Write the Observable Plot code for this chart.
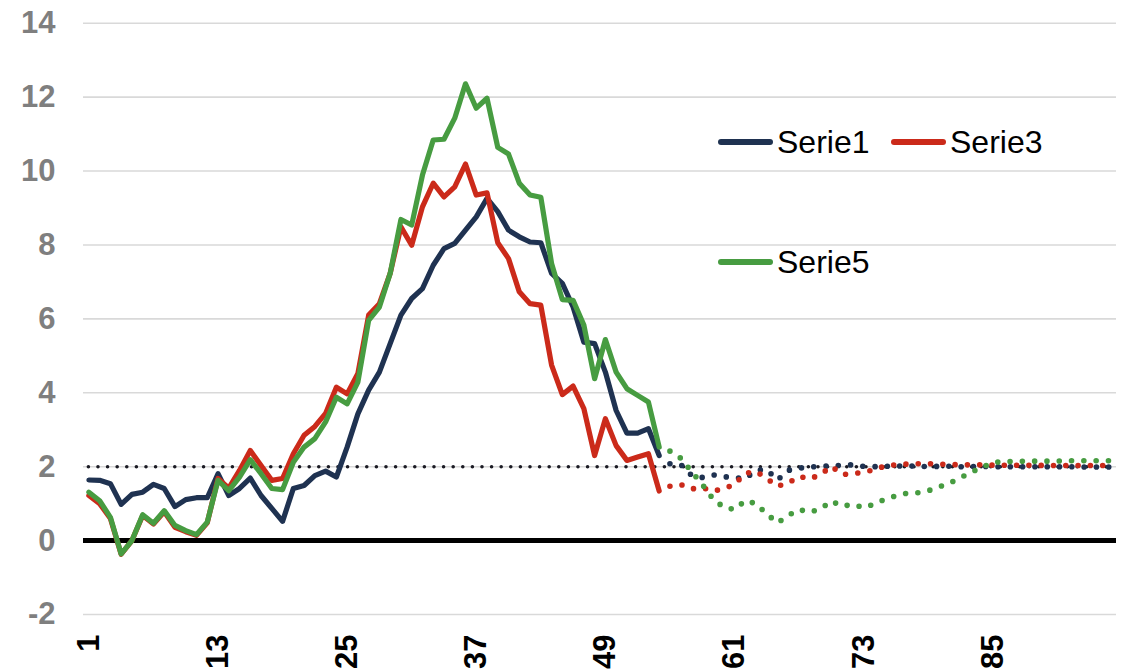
<!DOCTYPE html>
<html><head><meta charset="utf-8">
<script src="https://cdn.jsdelivr.net/npm/d3@7"></script>
<script src="https://cdn.jsdelivr.net/npm/@observablehq/plot@0.6"></script>
<style>
body{margin:0;background:#fff;font-family:"Liberation Sans",Arial,sans-serif}
#wrap{position:relative;width:1123px;height:670px;overflow:hidden;background:#fff}
.leg{position:absolute;display:flex;align-items:center;font-size:32px;color:#000;line-height:32px;height:32px;white-space:nowrap}
.leg .sw{display:inline-block;width:55px;height:6px;border-radius:3px;margin-right:4px}
</style></head>
<body><div id="wrap"></div>
<script>
// categories 1..96
const categories = Array.from({length: 96}, (_, k) => k + 1);
const xTicks = [1, 13, 25, 37, 49, 61, 73, 85];
const yTicks = [-2, 0, 2, 4, 6, 8, 10, 12, 14];
const target = 2;

// observed (solid) values, categories 1..54
const serie1 = [1.64,1.63,1.54,0.98,1.25,1.31,1.52,1.41,0.92,1.11,
  1.16,1.16,1.81,1.22,1.41,1.69,1.22,0.87,0.52,1.41,
  1.49,1.76,1.88,1.72,2.53,3.43,4.07,4.56,5.33,6.10,
  6.55,6.82,7.45,7.90,8.04,8.40,8.76,9.26,8.90,8.40,
  8.22,8.08,8.06,7.23,6.96,6.32,5.37,5.33,4.56,3.52,
  2.91,2.91,3.03,2.30];
const serie3 = [1.22,1.00,0.60,-0.37,0.00,0.68,0.45,0.78,0.36,0.24,
  0.14,0.48,1.68,1.42,1.90,2.44,2.03,1.63,1.68,2.35,
  2.85,3.09,3.44,4.15,3.97,4.52,6.10,6.41,7.23,8.49,
  7.99,9.03,9.67,9.30,9.57,10.19,9.35,9.41,8.06,7.63,
  6.73,6.41,6.37,4.75,3.95,4.18,3.57,2.30,3.30,2.57,
  2.17,2.26,2.35,1.34];
const serie5 = [1.31,1.08,0.63,-0.36,0.00,0.70,0.47,0.81,0.41,0.27,
  0.16,0.50,1.63,1.35,1.72,2.19,1.81,1.41,1.38,2.12,
  2.53,2.76,3.21,3.88,3.70,4.29,5.96,6.32,7.23,8.69,
  8.54,9.89,10.84,10.86,11.43,12.36,11.70,11.97,10.64,10.46,
  9.67,9.35,9.29,7.50,6.52,6.50,5.83,4.38,5.44,4.56,
  4.11,3.93,3.75,2.53];

// projected (dotted) values, categories 55..96
const serie1Proj = [2.08,2.06,1.77,1.71,1.78,1.73,1.70,1.68,1.90,1.92,
  1.64,1.90,1.96,1.99,2.01,2.02,2.04,2.05,2.01,2.00,
  2.01,2.02,2.02,2.01,2.00,2.01,2.01,2.00,2.00,2.01,
  2.00,2.00,2.00,2.00,2.00,2.00,2.00,2.00,1.99,1.99,
  1.99,1.99];
const serie3Proj = [1.47,1.52,1.40,1.43,1.34,1.40,1.52,1.82,1.87,1.68,
  1.47,1.56,1.74,1.67,1.79,2.01,1.79,1.81,1.85,1.92,
  2.02,2.05,2.07,2.08,2.08,2.07,2.06,2.05,2.05,2.05,
  2.04,2.04,2.04,2.04,2.04,2.03,2.03,2.03,2.03,2.03,
  2.03,2.03];
const serie5Proj = [2.42,2.23,1.87,1.52,1.13,0.90,0.84,1.08,1.00,0.72,
  0.48,0.68,0.84,0.77,0.86,1.07,0.93,0.98,0.89,0.99,
  1.12,1.21,1.28,1.29,1.35,1.45,1.56,1.70,1.85,1.98,
  2.11,2.14,2.14,2.15,2.15,2.15,2.15,2.16,2.16,2.16,
  2.16,2.16];

const seriesNames = ["Serie1", "Serie3", "Serie5"];
const colors = {Serie1: "#1f3251", Serie3: "#cb2a1a", Serie5: "#479c41"};

const solidStart = categories[0];
const projStart = categories[serie1.length];
const rows = (vals, start) => vals.map((v, k) => ({i: categories[start - 1 + k], v}));

const solid = {Serie1: rows(serie1, solidStart), Serie3: rows(serie3, solidStart), Serie5: rows(serie5, solidStart)};
const proj = {Serie1: rows(serie1Proj, projStart), Serie3: rows(serie3Proj, projStart), Serie5: rows(serie5Proj, projStart)};

const lineMarks = [];
for (const s of seriesNames) {
  lineMarks.push(Plot.line(solid[s], {x: "i", y: "v", stroke: colors[s], strokeWidth: 5.2, strokeLinejoin: "round", strokeLinecap: "round"}));
}
for (const s of seriesNames) {
  lineMarks.push(Plot.line(proj[s], {x: "i", y: "v", stroke: colors[s], strokeWidth: 5.6, strokeDasharray: "0 12.3", strokeLinecap: "round", strokeLinejoin: "round"}));
}

const chart = Plot.plot({
  width: 1123, height: 670,
  marginLeft: 83, marginRight: 7, marginTop: 22.7, marginBottom: 56,
  x: {domain: [0.5, 96.5]},
  y: {domain: [-2, 14]},
  style: {fontFamily: "Liberation Sans, Arial, sans-serif", background: "white", overflow: "visible"},
  marks: [
    Plot.gridY(yTicks, {stroke: "#d9d9d9", strokeOpacity: 1, strokeWidth: 1.6}),
    Plot.axisY(yTicks, {tickSize: 0, tickPadding: 28, fontSize: 31, fontWeight: "bold", fill: "#7f7f7f", tickFormat: d => String(d), label: null}),
    Plot.axisX(xTicks, {tickSize: 0, tickPadding: 20, tickRotate: -90, fontSize: 31, fontWeight: "bold", fill: "#000", tickFormat: d => String(d), label: null}),
    Plot.ruleY([0], {stroke: "#000", strokeWidth: 5}),
    Plot.ruleY([target], {x1: categories[0], x2: categories[categories.length - 1], stroke: "#1b1b24", strokeWidth: 3.6, strokeDasharray: "0 9.6", strokeLinecap: "round"}),
    ...lineMarks
  ]
});

const wrap = document.getElementById("wrap");
wrap.appendChild(chart);

// legend (HTML overlay)
const legendItems = [
  {name: "Serie1", left: 718, top: 126},
  {name: "Serie3", left: 891, top: 126},
  {name: "Serie5", left: 718, top: 246}
];
for (const it of legendItems) {
  const d = document.createElement("div");
  d.className = "leg";
  d.style.left = it.left + "px";
  d.style.top = it.top + "px";
  const sw = document.createElement("span");
  sw.className = "sw";
  sw.style.background = colors[it.name];
  d.appendChild(sw);
  d.appendChild(document.createTextNode(it.name));
  wrap.appendChild(d);
}
</script>
</body></html>
